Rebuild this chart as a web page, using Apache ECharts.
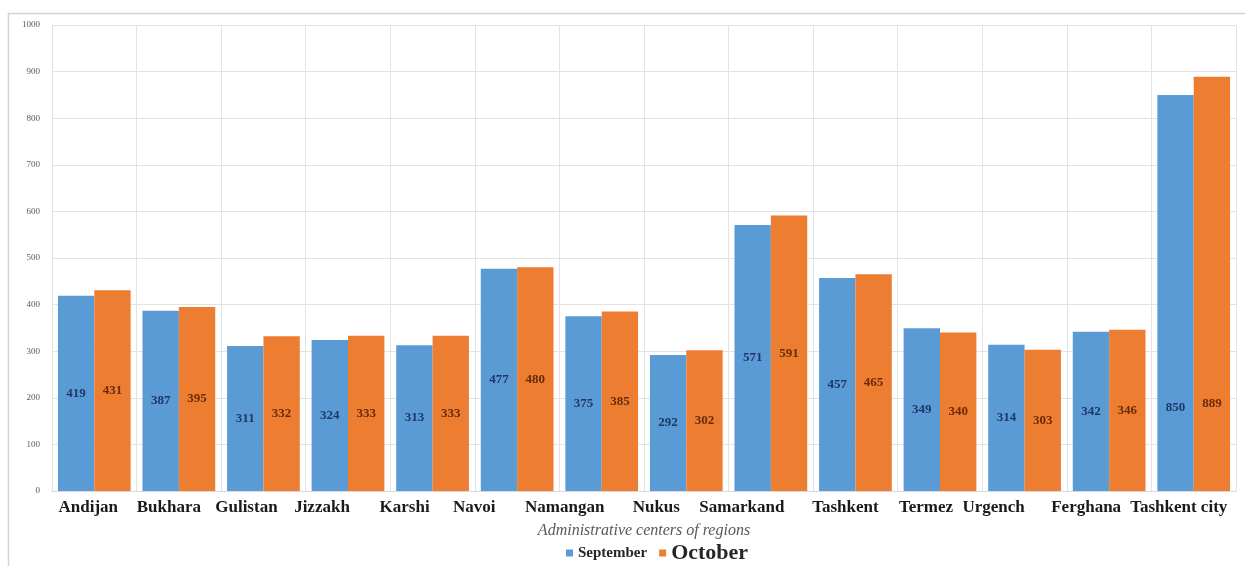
<!DOCTYPE html>
<html>
<head>
<meta charset="utf-8">
<style>
  html, body { margin: 0; padding: 0; background: #fff; }
  #chart { width: 1245px; height: 566px; }
</style>
<script src="https://cdn.jsdelivr.net/npm/echarts@6/dist/echarts.min.js"></script>
</head>
<body>
<div id="chart"></div>
<script>
// Regional administrative centres
const categories = ['Andijan', 'Bukhara', 'Gulistan', 'Jizzakh', 'Karshi', 'Navoi', 'Namangan',
  'Nukus', 'Samarkand', 'Tashkent', 'Termez', 'Urgench', 'Ferghana', 'Tashkent city'];

// Values per month
const september = [419, 387, 311, 324, 313, 477, 375, 292, 571, 457, 349, 314, 342, 850];
const october   = [431, 395, 332, 333, 333, 480, 385, 302, 591, 465, 340, 303, 346, 889];

const seriesNames = ['September', 'October'];
const yTicks = { min: 0, max: 1000, step: 100 };

// Leftward shift (px) of each category name under its group
const labelShift = [6, 10, 17, 26, 28, 43, 37, 30, 29, 10, 14, 31, 23, 15];

const serif = '"Liberation Serif", "DejaVu Serif", serif';
const BLUE = '#5B9BD5';
const ORANGE = '#ED7D31';

function seriesData(values) {
  return values.map((v, i) => {
    if (i === values.length - 1) {
      // the tall last pair carries its label lower in the bar
      return { value: v, label: { position: ['50%', '79%'], align: 'center', verticalAlign: 'middle' } };
    }
    return v;
  });
}

const chart = echarts.init(document.getElementById('chart'), null, { renderer: 'canvas' });

chart.setOption({
  backgroundColor: '#ffffff',
  animation: false,
  graphic: [{
    type: 'polyline',
    silent: true,
    shape: { points: [[8.5, 566], [8.5, 13.5], [1245, 13.5]] },
    style: { stroke: '#d4d4d4', lineWidth: 1.5, fill: null }
  }],
  grid: { left: 52, right: 9, top: 25, bottom: 75, containLabel: false },
  legend: {
    data: seriesNames,
    top: 542,
    left: 566,
    itemWidth: 7,
    itemHeight: 7,
    itemGap: 12,
    icon: 'rect',
    padding: 0,
    formatter: name => name === 'October' ? '{big|' + name + '}' : '{small|' + name + '}',
    textStyle: {
      fontFamily: serif,
      rich: {
        small: { fontFamily: serif, fontWeight: 'bold', fontSize: 15, color: '#262626' },
        big: { fontFamily: serif, fontWeight: 'bold', fontSize: 22, color: '#262626' }
      }
    }
  },
  xAxis: {
    type: 'category',
    data: categories.map((c, i) => ({
      value: c,
      textStyle: { padding: [0, labelShift[i] * 2, 0, 0] }
    })),
    name: 'Administrative centers of regions',
    nameLocation: 'middle',
    nameGap: 32,
    nameTextStyle: { fontFamily: serif, fontStyle: 'italic', fontSize: 16, color: '#595959' },
    axisLine: { show: true, lineStyle: { color: '#d9d9d9' } },
    axisTick: { show: false },
    splitLine: { show: true, lineStyle: { color: '#e3e3e3', width: 1 } },
    axisLabel: {
      interval: 0,
      margin: 8,
      fontFamily: serif,
      fontWeight: 'bold',
      fontSize: 17,
      color: '#1a1a1a'
    }
  },
  yAxis: {
    type: 'value',
    min: yTicks.min,
    max: yTicks.max,
    interval: yTicks.step,
    axisLine: { show: false },
    axisTick: { show: false },
    splitLine: { lineStyle: { color: '#e3e3e3', width: 1 } },
    axisLabel: {
      fontFamily: serif,
      fontSize: 9,
      color: '#595959',
      margin: 12,
      formatter: v => String(v)
    }
  },
  series: [
    {
      name: seriesNames[0],
      type: 'bar',
      data: seriesData(september),
      barGap: '0%',
      barCategoryGap: '14%',
      itemStyle: { color: BLUE },
      label: {
        show: true,
        position: 'inside',
        fontFamily: serif,
        fontWeight: 'bold',
        fontSize: 13,
        color: '#1F3864'
      }
    },
    {
      name: seriesNames[1],
      type: 'bar',
      data: seriesData(october),
      barGap: '0%',
      barCategoryGap: '14%',
      itemStyle: { color: ORANGE },
      label: {
        show: true,
        position: 'inside',
        fontFamily: serif,
        fontWeight: 'bold',
        fontSize: 13,
        color: '#6B2A08'
      }
    }
  ]
});
</script>
</body>
</html>
